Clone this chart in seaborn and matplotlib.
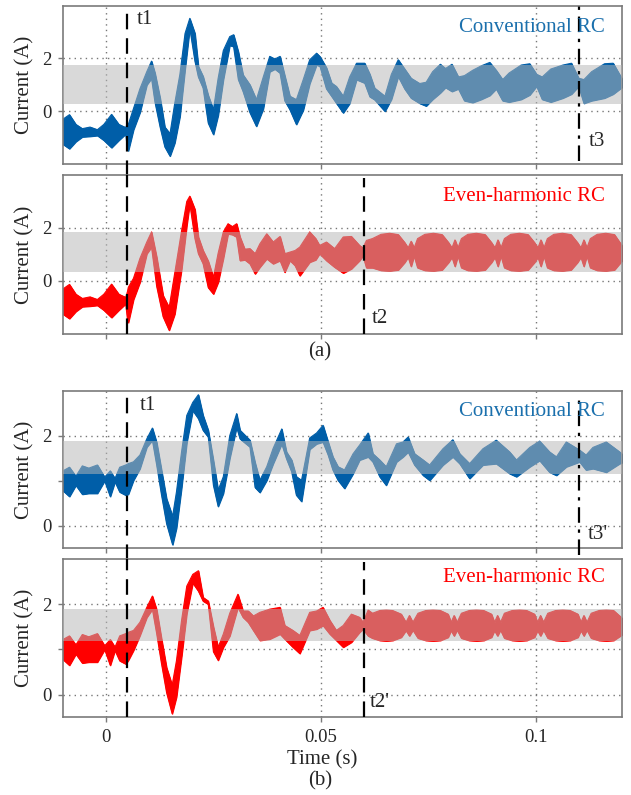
import numpy as np
import pandas as pd
import matplotlib
matplotlib.use("Agg")
import matplotlib.pyplot as plt
import seaborn as sns

sns.set_theme(style="white")
plt.rcParams['font.family'] = ['Liberation Serif', 'DejaVu Serif']

# ---------------- data (time in ms, current in A) ----------------
# (a) before t1 (same for both controllers)
pre_a_t  = [-10.0, -8.5, -7.0, -5.5, -3.7, -2.0, -0.5, 1.3, 3.0, 4.6]
pre_a_up = [-0.30, -0.13, -0.50, -0.66, -0.60, -0.70, -0.50, -0.12, -0.50, -0.62]
pre_a_lo = [-1.25, -1.42, -1.15, -0.97, -0.95, -0.92, -1.10, -1.38, -1.10, -0.86]

# (a) conventional RC after t1
conv_a_t = [5.0, 5.2, 6.4, 7.9, 9.5, 10.6, 11.4, 12.6, 13.7, 14.9, 16.0, 17.2, 18.4, 19.5,
            20.7, 21.5, 22.6, 23.8, 25.0, 26.1, 27.3, 28.8, 29.7, 30.8, 31.9, 33.5, 35.0,
            36.6, 38.1, 39.3, 40.5, 41.6, 42.8, 44.3, 45.9, 47.4, 49.0, 49.8, 51.3, 52.5,
            53.6, 55.2, 56.7, 58.3, 60.2, 61.4, 62.5, 64.9, 66.4, 68.0, 69.5, 71.0, 73.0,
            74.5, 76.0, 77.8, 79.0, 80.5, 82.0, 83.4, 85.3, 87.3, 89.3, 90.8, 92.3, 93.8,
            96.6, 98.6, 100.2, 101.5, 103.5, 106.3, 108.3, 110.0, 111.2, 113.0, 116.0,
            118.0, 120.0]
conv_a_up = [-0.45, -0.50, 0.10, 0.85, 1.50, 1.90, 1.45, 0.50, -0.60, -0.85, 0.30, 1.40,
             2.95, 3.52, 2.95, 1.70, 1.32, 0.60, 0.06, 1.25, 2.30, 2.83, 2.90, 2.25, 1.38,
             1.00, 0.44, 1.30, 2.08, 1.98, 2.08, 1.35, 0.57, 0.44, 1.20, 1.95, 2.20, 2.07,
             1.65, 1.07, 0.94, 0.57, 1.30, 1.82, 1.82, 1.40, 0.88, 0.57, 1.40, 1.95, 1.60,
             1.25, 1.05, 1.10, 1.50, 1.78, 1.62, 1.78, 1.30, 1.35, 1.55, 1.72, 1.85, 1.55,
             1.20, 1.45, 1.75, 1.80, 1.40, 1.30, 1.60, 1.75, 1.82, 1.25, 1.20, 1.50, 1.80,
             1.82, 1.25]
conv_a_lo = [-1.45, -1.50, -0.70, -0.05, 1.00, 1.25, 0.35, -0.60, -1.35, -1.70, -1.20, -0.20,
             1.60, 3.15, 1.90, 1.30, 0.88, -0.45, -0.88, -0.15, 1.20, 2.50, 2.45, 1.20, 0.75,
             -0.05, -0.57, 0.10, 1.50, 1.60, 1.45, 0.40, 0.06, -0.50, 0.05, 1.05, 1.76, 1.70,
             0.85, 0.57, 0.31, -0.06, 0.30, 1.20, 1.07, 0.55, 0.44, 0.00, 0.45, 1.32, 0.85,
             0.50, 0.30, 0.20, 0.45, 0.70, 0.90, 0.75, 0.85, 0.40, 0.33, 0.45, 0.60, 0.85,
             0.40, 0.35, 0.45, 0.62, 0.95, 0.45, 0.35, 0.50, 0.65, 0.95, 0.30, 0.40, 0.50,
             0.65, 0.90]

# (a) even-harmonic RC after t1
even_a_t = [5.0, 5.2, 6.4, 7.9, 9.5, 10.6, 11.8, 13.3, 14.7, 16.0, 17.6, 18.8, 19.5, 20.7,
            21.5, 22.6, 23.8, 25.0, 26.1, 27.3, 28.4, 29.4, 30.4, 31.2, 32.3, 33.5, 34.7,
            35.8, 37.4, 38.9, 40.5, 41.6, 42.8, 44.0, 45.1, 47.4, 48.8, 49.7, 51.3, 53.2,
            55.2, 57.1, 59.0, 59.8, 60.6, 62.0, 64.0, 66.0, 68.0, 69.5, 70.3, 71.0, 71.7,
            72.5, 74.2, 76.2, 78.2, 79.7, 80.5, 81.2, 81.9, 82.7, 84.2, 86.2, 88.2, 89.7,
            90.5, 91.2, 91.9, 92.7, 94.2, 96.2, 98.2, 99.7, 100.5, 101.2, 101.9, 102.7,
            104.2, 106.2, 108.2, 109.7, 110.5, 111.2, 111.9, 112.7, 114.3, 116.3, 118.3,
            120.0]
even_a_up = [-0.40, -0.24, 0.10, 0.85, 1.47, 1.85, 0.90, -0.55, -1.00, 0.30, 1.90, 3.00,
             3.20, 2.70, 1.66, 1.15, 0.75, 0.14, 1.05, 1.85, 2.16, 2.05, 2.16, 1.66, 1.20,
             1.22, 1.03, 1.40, 1.78, 1.47, 1.68, 1.03, 1.09, 1.15, 1.28, 1.85, 1.60, 1.34,
             1.47, 1.22, 1.66, 1.68, 1.34, 1.25, 1.53, 1.60, 1.76, 1.80, 1.75, 1.45, 1.25,
             1.50, 1.25, 1.60, 1.76, 1.80, 1.75, 1.45, 1.25, 1.55, 1.25, 1.60, 1.76, 1.80,
             1.75, 1.45, 1.25, 1.55, 1.25, 1.60, 1.76, 1.80, 1.75, 1.45, 1.25, 1.55, 1.25,
             1.60, 1.76, 1.80, 1.75, 1.45, 1.25, 1.55, 1.25, 1.60, 1.76, 1.80, 1.75, 1.35]
even_a_lo = [-1.45, -1.57, -0.70, -0.05, 1.03, 1.28, -0.20, -1.35, -1.86, -1.25, 0.45, 2.10,
             2.92, 1.60, 1.03, 0.65, -0.25, -0.49, -0.05, 0.85, 1.78, 1.75, 1.66, 0.77, 0.80,
             0.65, 0.27, 0.52, 0.84, 0.65, 0.77, 0.33, 0.77, 0.58, 0.20, 0.71, 0.80, 1.03,
             0.77, 0.52, 0.30, 0.46, 0.77, 0.95, 0.50, 0.50, 0.40, 0.38, 0.42, 0.70, 0.90,
             0.55, 0.95, 0.50, 0.40, 0.38, 0.42, 0.70, 0.90, 0.55, 0.95, 0.50, 0.40, 0.38,
             0.42, 0.70, 0.90, 0.55, 0.95, 0.50, 0.40, 0.38, 0.42, 0.70, 0.90, 0.55, 0.95,
             0.50, 0.40, 0.38, 0.42, 0.70, 0.90, 0.55, 0.95, 0.50, 0.40, 0.38, 0.42, 0.75]

# (b) before t1 (same for both controllers)
pre_b_t  = [-10.0, -8.5, -7.0, -5.5, -4.0, -2.0, -0.3, 1.0, 2.1, 3.2, 4.6]
pre_b_up = [1.22, 1.30, 1.10, 1.33, 1.28, 1.35, 1.08, 1.22, 1.05, 1.30, 1.35]
pre_b_lo = [0.78, 0.65, 0.90, 0.70, 0.72, 0.72, 1.00, 0.65, 0.98, 0.75, 0.68]

# (b) conventional RC after t1
conv_b_t = [5.2, 6.4, 7.9, 9.5, 10.8, 11.8, 12.9, 14.1, 15.5, 16.4, 17.6, 18.8, 20.2, 21.5,
            22.6, 23.8, 25.0, 26.1, 27.3, 28.8, 30.4, 31.2, 33.5, 34.7, 35.8, 37.4, 38.9,
            40.9, 42.0, 43.2, 44.3, 45.5, 47.4, 49.0, 50.5, 51.7, 52.8, 54.0, 55.5, 57.5,
            59.0, 61.0, 62.1, 63.7, 65.2, 67.6, 69.1, 70.3, 71.8, 73.8, 75.3, 78.4, 80.7,
            82.3, 84.6, 87.7, 90.8, 93.9, 95.5, 98.6, 100.9, 103.2, 104.8, 107.1, 110.2,
            111.7, 113.3, 116.4, 119.5, 120.0]
conv_b_up = [1.38, 1.42, 1.57, 1.93, 2.17, 1.85, 1.25, 0.60, 0.21, 0.75, 1.65, 2.45, 2.74,
             2.91, 2.45, 2.12, 1.45, 0.79, 1.09, 2.00, 2.49, 2.12, 1.90, 1.40, 1.01, 1.31,
             1.72, 2.15, 1.64, 1.46, 1.09, 1.01, 1.95, 2.06, 2.23, 1.86, 1.53, 1.31, 1.24,
             1.60, 1.79, 2.06, 1.60, 1.46, 1.31, 1.82, 1.86, 1.97, 1.60, 1.46, 1.35, 1.71,
             1.91, 1.60, 1.38, 1.71, 1.90, 1.64, 1.46, 1.74, 1.88, 1.64, 1.53, 1.86, 1.68,
             1.57, 1.74, 1.86, 1.64, 1.60]
conv_b_lo = [0.70, 1.01, 1.27, 1.75, 1.90, 1.35, 0.70, 0.05, -0.42, -0.05, 0.85, 1.85, 2.56,
             2.38, 2.12, 1.97, 0.90, 0.43, 0.72, 1.50, 2.19, 1.93, 1.75, 0.85, 0.74, 1.01,
             1.38, 1.82, 1.49, 1.20, 0.68, 0.54, 1.70, 1.82, 1.86, 1.57, 1.24, 1.01, 0.83,
             1.16, 1.46, 1.53, 1.42, 1.09, 0.90, 1.42, 1.53, 1.64, 1.35, 1.12, 1.01, 1.35,
             1.53, 1.38, 1.05, 1.35, 1.38, 1.16, 1.09, 1.31, 1.45, 1.19, 1.12, 1.31, 1.42,
             1.24, 1.27, 1.19, 1.38, 1.40]

# (b) even-harmonic RC after t1
even_b_t = [5.2, 6.4, 7.9, 9.5, 10.8, 11.8, 12.9, 14.1, 15.4, 16.4, 17.6, 18.8, 20.2, 21.5,
            22.6, 23.8, 25.0, 26.1, 27.3, 28.8, 30.7, 31.9, 33.1, 34.3, 35.8, 38.1, 40.5,
            41.6, 43.5, 45.1, 47.4, 49.0, 50.5, 52.1, 53.6, 55.2, 57.1, 59.0, 59.8, 61.0,
            62.0, 63.7, 65.2, 66.7, 68.7, 69.8, 70.6, 71.4, 72.6, 74.4, 76.1, 77.8, 79.6,
            80.3, 81.0, 81.7, 82.7, 84.5, 86.2, 87.9, 89.7, 90.4, 91.1, 91.8, 92.7, 94.5,
            96.2, 97.9, 99.7, 100.4, 101.1, 101.8, 102.8, 104.6, 106.3, 108.0, 109.8,
            110.5, 111.2, 111.9, 112.9, 114.7, 116.4, 118.1, 120.0]
even_b_up = [1.38, 1.42, 1.60, 1.93, 2.18, 1.88, 1.25, 0.60, 0.21, 0.75, 1.65, 2.40, 2.66,
             2.74, 2.15, 2.07, 1.50, 1.05, 1.34, 1.80, 2.22, 1.85, 1.85, 1.74, 1.82, 1.89,
             1.93, 1.53, 1.42, 1.31, 1.82, 1.85, 1.93, 1.64, 1.42, 1.53, 1.78, 1.71, 1.60,
             1.87, 1.80, 1.86, 1.87, 1.86, 1.78, 1.60, 1.75, 1.60, 1.80, 1.86, 1.87, 1.86,
             1.78, 1.60, 1.75, 1.60, 1.80, 1.86, 1.87, 1.86, 1.78, 1.60, 1.75, 1.60, 1.80,
             1.86, 1.87, 1.86, 1.78, 1.60, 1.75, 1.60, 1.80, 1.86, 1.87, 1.86, 1.78, 1.60,
             1.75, 1.60, 1.80, 1.86, 1.87, 1.86, 1.70]
even_b_lo = [0.76, 0.98, 1.31, 1.71, 1.89, 1.35, 0.70, 0.05, -0.42, -0.05, 0.85, 1.80, 2.47,
             2.29, 2.07, 2.00, 0.95, 0.76, 1.05, 1.30, 1.93, 1.71, 1.60, 1.42, 1.20, 1.23,
             1.34, 1.23, 1.05, 0.91, 1.42, 1.45, 1.53, 1.34, 1.20, 1.05, 1.16, 1.38, 1.45,
             1.30, 1.25, 1.20, 1.19, 1.20, 1.27, 1.42, 1.30, 1.43, 1.25, 1.20, 1.19, 1.20,
             1.27, 1.42, 1.30, 1.43, 1.25, 1.20, 1.19, 1.20, 1.27, 1.42, 1.30, 1.43, 1.25,
             1.20, 1.19, 1.20, 1.27, 1.42, 1.30, 1.43, 1.25, 1.20, 1.19, 1.20, 1.27, 1.42,
             1.30, 1.43, 1.25, 1.20, 1.19, 1.20, 1.32]

# hysteresis (gray) bands
band_a_conv = (0.29, 1.76)
band_a_even = (0.33, 1.84)
band_b_conv = (1.15, 1.88)
band_b_even = (1.19, 1.89)

# event markers (s)
t1 = 0.005
t2 = 0.06
t3 = 0.11

BLUE = '#005ea8'
RED = '#ff0000'
TXT_BLUE = '#1b70ad'
GRAY_BAND = '#b7b7b7'
FS = 15


def make_df(tp, up, lo, tq, uq, lq):
    t = list(tp) + list(tq)
    u = list(up) + list(uq)
    l = list(lo) + list(lq)
    return pd.DataFrame({'t': np.array(t) / 1000.0, 'up': u, 'lo': l})


panels = [
    dict(df=make_df(pre_a_t, pre_a_up, pre_a_lo, conv_a_t, conv_a_up, conv_a_lo),
         color=BLUE, band=band_a_conv, ylim=(-2, 4), yticks=[0, 2], ylabels=['0', '2'],
         title='Conventional RC', tcol=TXT_BLUE, ty=3.18,
         rect=[0.0998, 0.7937, 0.8855, 0.1991]),
    dict(df=make_df(pre_a_t, pre_a_up, pre_a_lo, even_a_t, even_a_up, even_a_lo),
         color=RED, band=band_a_even, ylim=(-2, 4), yticks=[0, 2], ylabels=['0', '2'],
         title='Even-harmonic RC', tcol=RED, ty=3.19,
         rect=[0.0998, 0.5799, 0.8855, 0.2000]),
    dict(df=make_df(pre_b_t, pre_b_up, pre_b_lo, conv_b_t, conv_b_up, conv_b_lo),
         color=BLUE, band=band_b_conv, ylim=(-0.5, 3), yticks=[0, 1, 2], ylabels=['0', '', '2'],
         title='Conventional RC', tcol=TXT_BLUE, ty=2.53,
         rect=[0.0998, 0.3103, 0.8855, 0.1983]),
    dict(df=make_df(pre_b_t, pre_b_up, pre_b_lo, even_b_t, even_b_up, even_b_lo),
         color=RED, band=band_b_even, ylim=(-0.5, 3), yticks=[0, 1, 2], ylabels=['0', '', '2'],
         title='Even-harmonic RC', tcol=RED, ty=2.59,
         rect=[0.0998, 0.0977, 0.8855, 0.1992]),
]

fig = plt.figure(figsize=(6.31, 7.95), dpi=100)
axes = []
for i, p in enumerate(panels):
    ax = fig.add_axes(p['rect'])
    axes.append(ax)
    df = p['df']
    ax.fill_between(df['t'], df['lo'], df['up'], color=p['color'], lw=0.8,
                    edgecolor=p['color'], zorder=2)
    sns.lineplot(data=df, x='t', y='up', ax=ax, color=p['color'], lw=0.8, zorder=2,
                 estimator=None, sort=False)
    sns.lineplot(data=df, x='t', y='lo', ax=ax, color=p['color'], lw=0.8, zorder=2,
                 estimator=None, sort=False)
    ax.axhspan(p['band'][0], p['band'][1], color=GRAY_BAND, alpha=0.52, lw=0, zorder=3)
    ax.set_xlim(-0.01, 0.12)
    ax.set_ylim(*p['ylim'])
    ax.set_xticks([0, 0.05, 0.1])
    ax.set_yticks(p['yticks'])
    ax.set_yticklabels(p['ylabels'])
    ax.grid(True, ls=(0, (1, 3)), color='#777777', lw=1.0, zorder=1)
    ax.set_axisbelow(True)
    for s in ax.spines.values():
        s.set_color('#7a7a7a')
        s.set_linewidth(1.2)
    ax.tick_params(axis='both', direction='out', length=3.5, width=1.0, color='#7a7a7a',
                   labelsize=FS - 1.5, pad=5, left=True, bottom=True)
    ax.set_ylabel('Current (A)', fontsize=FS, labelpad=5)
    ax.set_xlabel('')
    if i < 3:
        ax.tick_params(labelbottom=False)
    else:
        ax.set_xticklabels(['0', '0.05', '0.1'])
    ax.text(0.116, p['ty'], p['title'], color=p['tcol'], fontsize=FS, ha='right',
            va='center', zorder=6)

ax1, ax2, ax3, ax4 = axes
dash = (0, (7, 4))
dashdot = (0, (7, 3, 1.5, 3))
ax1.axvline(t1, ymin=-0.075, ymax=1, color='black', lw=1.6, ls=dash, clip_on=False, zorder=5)
ax2.axvline(t1, ymin=0, ymax=1, color='black', lw=1.6, ls=dash, zorder=5)
ax3.axvline(t1, ymin=-0.075, ymax=1, color='black', lw=1.6, ls=dash, clip_on=False, zorder=5)
ax4.axvline(t1, ymin=0, ymax=1, color='black', lw=1.6, ls=dash, zorder=5)
ax2.axvline(t2, ymin=0, ymax=0.98, color='black', lw=1.6, ls=dash, zorder=5)
ax4.axvline(t2, ymin=0, ymax=0.98, color='black', lw=1.6, ls=dash, zorder=5)
ax1.axvline(t3, ymin=0.02, ymax=1, color='black', lw=1.6, ls=dashdot, zorder=5)
ax3.axvline(t3, ymin=-0.04, ymax=0.97, color='black', lw=1.6, ls=dashdot,
            clip_on=False, zorder=5)

ax1.text(0.0072, 3.46, 't1', fontsize=FS, va='center', ha='left', zorder=6)
ax3.text(0.0078, 2.66, 't1', fontsize=FS, va='center', ha='left', zorder=6)
ax2.text(0.0618, -1.43, 't2', fontsize=FS, va='center', ha='left', zorder=6)
ax4.text(0.0614, -0.17, "t2'", fontsize=FS, va='center', ha='left', zorder=6)
ax1.text(0.1123, -1.14, 't3', fontsize=FS, va='center', ha='left', zorder=6)
ax3.text(0.1121, -0.19, "t3'", fontsize=FS, va='center', ha='left', zorder=6)

fig.text(320 / 631, 1 - 352 / 795, '(a)', fontsize=FS, ha='center', va='center')
fig.text(322 / 631, 1 - 760 / 795, 'Time (s)', fontsize=FS, ha='center', va='center')
fig.text(320 / 631, 1 - 781 / 795, '(b)', fontsize=FS, ha='center', va='center')

fig.savefig('out.png', dpi=100)
